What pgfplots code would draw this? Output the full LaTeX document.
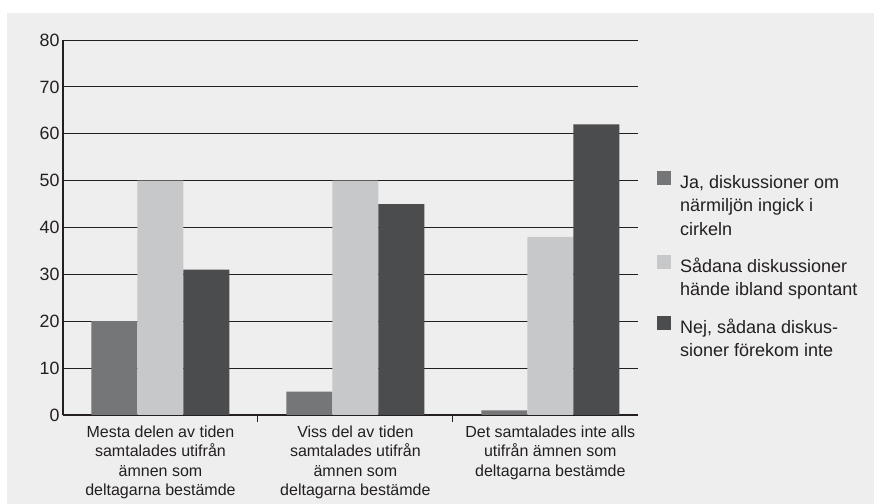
\documentclass[border=0pt]{standalone}
\usepackage{pgfplots}
\pgfplotsset{compat=1.18}
\usepackage{fontspec}
\setmainfont{Liberation Sans}
\definecolor{bgc}{HTML}{EEEEEE}
\definecolor{c1}{HTML}{757678}
\definecolor{c2}{HTML}{C7C8CA}
\definecolor{c3}{HTML}{4B4C4E}
\definecolor{axc}{HTML}{231F20}
\begin{document}
\begin{tikzpicture}
\fill[white] (0,0) rectangle (874bp,504bp);
\fill[bgc] (7bp,0) rectangle (874bp,491bp);
\begin{axis}[
  at={(63bp,89bp)}, anchor=south west,
  scale only axis, width=575bp, height=375bp,
  ymin=0, ymax=80, ytick={0,10,...,80},
  xmin=-0.5, xmax=2.45,
  xtick={0,1,2},
  xticklabels={{Mesta delen av tiden\\samtalades utifrån\\ämnen som\\deltagarna bestämde},
               {Viss del av tiden\\samtalades utifrån\\ämnen som\\deltagarna bestämde},
               {Det samtalades inte alls\\utifrån ämnen som\\deltagarna bestämde}},
  ybar=0pt, bar width=46bp,
  axis x line=bottom, axis y line=left,
  axis line style={axc, line width=2.5bp, -},
  ymajorgrids, grid style={axc, line width=0.9bp},
  major tick length=0pt,
  extra x ticks={0.5,1.5}, extra x tick labels={},
  extra x tick style={tick align=outside, major tick length=7bp, tick style={axc, line width=1bp}},
  /pgf/number format/assume math mode=true,
  yticklabel style={font=\fontsize{17.8bp}{21bp}\selectfont, text=axc},
  xticklabel style={font=\fontsize{16bp}{19.5bp}\selectfont, align=center, text=axc, yshift=-7bp},
  every axis plot/.append style={draw=none,
    legend image code/.code={\fill[##1] (0bp,-15.5bp) rectangle (14bp,-1.5bp);}},
  legend style={at={(rel axis cs:1.033,0.6546)}, anchor=north west, draw=none, fill=none,
    inner sep=0pt, row sep=15bp, column sep=7bp,
    font=\fontsize{18bp}{23.5bp}\selectfont, text=axc,
    cells={anchor=north west, align=left, inner sep=0pt}},
]
\addplot[fill=c1] coordinates {(0,20) (1,5) (2,1)};
\addlegendentry{\strut Ja, diskussioner om\\närmiljön ingick i\\cirkeln\strut}
\addplot[fill=c2] coordinates {(0,50) (1,50) (2,38)};
\addlegendentry{\strut Sådana diskussioner\\hände ibland spontant\strut}
\addplot[fill=c3] coordinates {(0,31) (1,45) (2,62)};
\addlegendentry{\strut Nej, sådana diskus-\\sioner förekom inte\strut}
\end{axis}
\end{tikzpicture}
\end{document}
